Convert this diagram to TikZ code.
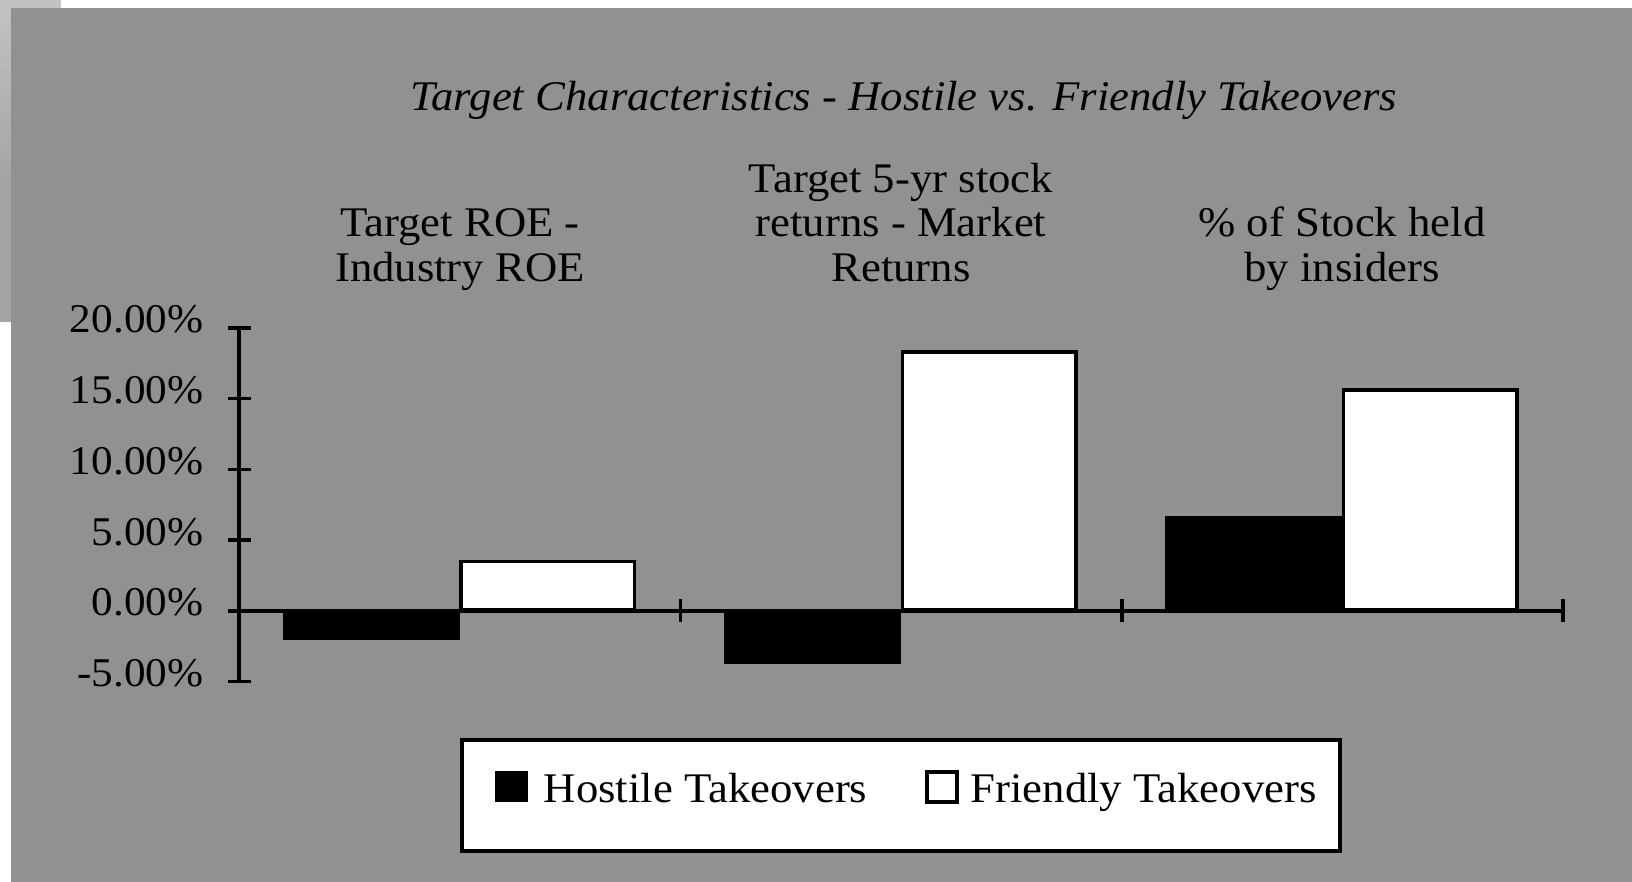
\documentclass[tikz,border=0pt]{standalone}
\usepackage{fontspec}
\setmainfont{Liberation Serif}[FakeStretch=1.06]
\usetikzlibrary{positioning}

\definecolor{slidegray}{gray}{0.57}
\definecolor{edgelight}{gray}{0.76}
\definecolor{edgemid}{gray}{0.64}

\tikzset{
  lbl/.style={font=\fontsize{12}{12.6}\selectfont, inner sep=0pt},
  ticklbl/.style={font=\fontsize{11.6}{12}\selectfont, inner sep=0pt},
  hostile/.style={fill=black, draw=black, line width=0.3pt},
  friendly/.style={fill=white, draw=black, line width=1pt},
  axis/.style={line width=1pt},
}

\begin{document}
\begin{tikzpicture}[x=0.01cm, y=-0.01cm]
    \useasboundingbox (0,0) rectangle (1632,882);

    % Slide background
    \fill[white] (0,0) rectangle (1632,882);
    \fill[edgelight] (0,0) rectangle (61,8);
    \shade[top color=edgelight, bottom color=edgemid] (0,8) rectangle (11,187);
    \fill[edgemid] (0,187) rectangle (11,322);
    \fill[slidegray] (11,8) rectangle (1632,882);

    % Title
    \node[lbl, font=\fontsize{12}{12.6}\selectfont\itshape, anchor=base] (title) at (904,111)
        {Target Characteristics - Hostile vs. Friendly Takeovers};

    % Category labels
    \node[lbl, align=center, anchor=south, text depth=0pt] (catroe) at (460,282)
        {Target ROE -\\Industry ROE};
    \node[lbl, align=center, anchor=south, text depth=0pt] (catret) at (901,282)
        {Target 5-yr stock\\returns - Market\\Returns};
    \node[lbl, align=center, anchor=south, text depth=0pt] (catins) at (1342,282)
        {\% of Stock held\\by insiders};

    % Bars
    \foreach \i/\h/\f in {0/-2.05/3.5, 1/-3.75/18.3, 2/6.7/15.6} {
        \pgfmathsetmacro\cx{239+441.3*\i+220.6}
        \fill[black] (\cx-177,610.8) rectangle (\cx,610.8-14.14*\h);
        \draw[friendly] (\cx+1.5,609.3) rectangle (\cx+175,610.8-14.14*\f);
    }

    % Value axis
    \draw[axis] (239,328) -- (239,681.5);
    \foreach \v/\t in {20/20.00\%, 15/15.00\%, 10/10.00\%, 5/5.00\%, 0/0.00\%, -5/-5.00\%} {
        \draw[axis] (228,610.8-14.14*\v) -- (251,610.8-14.14*\v);
        \node[ticklbl, anchor=base east] (ytick\v) at (204,615.8-14.14*\v) {\t};
    }

    % Category axis
    \draw[axis] (239,610.8) -- (1563.2,610.8);
    \foreach \k in {1,2,3}
        \draw[axis] (239+441.4*\k,599) -- (239+441.4*\k,622);

    % Legend
    \draw[line width=1.1pt, fill=white] (462,740) rectangle (1340,851);
    \fill[black] (495,771) rectangle (528,802);
    \node[lbl, anchor=base west] (hostlbl) at (543,802) {Hostile Takeovers};
    \draw[line width=0.9pt, fill=white] (927,772) rectangle (957,802);
    \node[lbl, anchor=base west] (friendlbl) at (970,802) {Friendly Takeovers};
\end{tikzpicture}
\end{document}
